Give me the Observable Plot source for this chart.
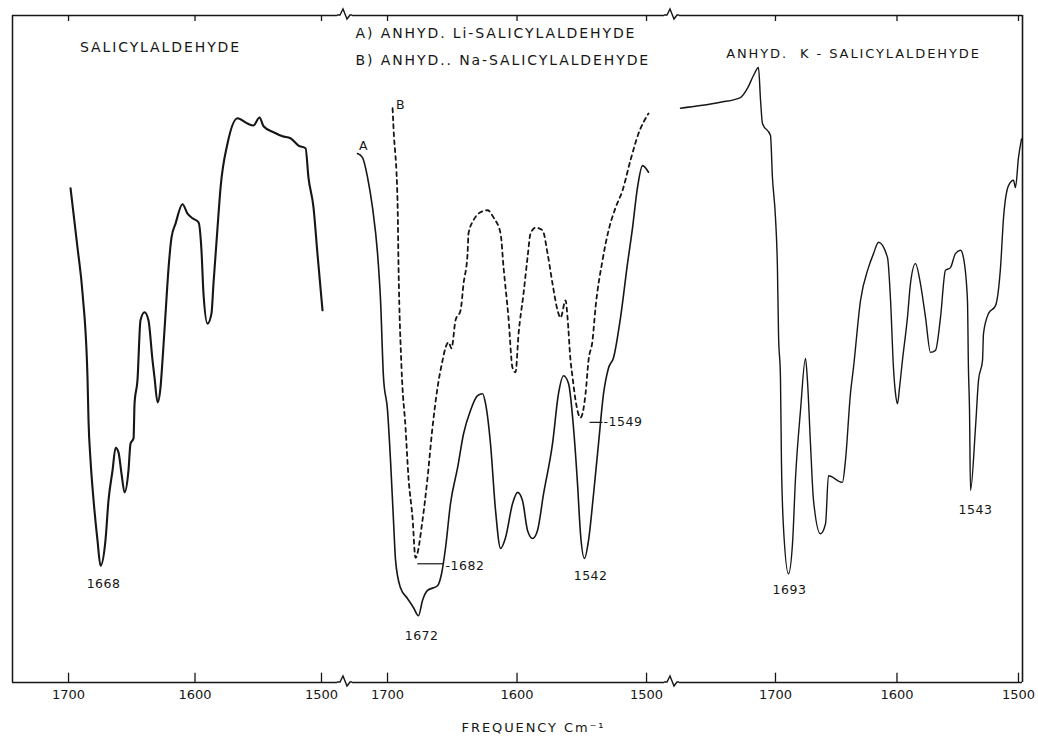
<!DOCTYPE html>
<html><head><meta charset="utf-8">
<script src="https://cdn.jsdelivr.net/npm/d3@7"></script>
<script src="https://cdn.jsdelivr.net/npm/@observablehq/plot@0.6"></script>
<style>
html,body{margin:0;padding:0;background:#fff;}
#chart{display:flex;flex-direction:row;align-items:flex-start;width:1038px;height:738px;}
#chart svg{overflow:visible;flex:none;}
</style></head><body><div id="chart"></div>
<script>
// ---- tick labels (cm^-1) ----
const tickValues = [1700, 1600, 1500];

// ---- Panel 1: Salicylaldehyde ----
const salWn = [1698.4,1692.9,1688.9,1685.0,1684.2,1682.6,1680.2,1677.1,1674.7,1670.8,1668.4,1665.2,1662.8,1660.5,1658.1,1655.7,1652.6,1651.0,1648.6,1647.8,1645.5,1643.1,1639.9,1636.8,1633.6,1632.0,1629.6,1627.3,1625.7,1623.3,1620.9,1618.6,1615.4,1609.9,1605.9,1602.0,1597.2,1594.9,1593.3,1590.1,1587.0,1585.4,1582.2,1579.8,1574.3,1566.4,1558.5,1553.8,1549.0,1545.8,1537.9,1530.8,1524.5,1518.2,1512.6,1510.3,1506.3,1503.2,1499.2];
const salT = [74.1,65.2,58.3,45.7,39.3,33.3,27.3,21.3,17.5,21.3,27.3,31.8,35.2,34.5,31.3,28.5,31.8,35.8,36.6,41.8,45.3,54.3,55.5,54.3,48.3,45.7,42.0,44.2,48.3,55.3,62.2,66.7,68.8,71.7,70.3,69.6,69.0,64.8,58.3,53.8,55.3,59.8,68.2,74.2,80.8,84.6,83.8,83.5,84.7,83.4,82.5,81.9,81.6,80.5,80.1,75.7,71.2,64.3,55.8];

// ---- Panel 2: A) anhyd. Li-salicylaldehyde (solid) ----
const liWn = [1723.2,1719.3,1715.4,1711.6,1707.7,1705.4,1703.1,1700.0,1697.7,1695.4,1693.8,1690.0,1684.6,1679.9,1676.1,1673.0,1669.1,1661.4,1658.3,1655.2,1651.4,1645.9,1641.3,1635.9,1630.5,1626.6,1624.3,1620.5,1616.6,1612.7,1608.9,1603.5,1599.6,1595.8,1591.9,1588.0,1584.2,1579.5,1572.6,1568.0,1564.1,1560.2,1556.4,1553.3,1551.0,1547.9,1544.8,1540.9,1537.1,1533.2,1529.3,1525.5,1520.1,1514.7,1510.8,1507.0,1503.1,1498.5];
const liT = [79.3,78.7,75.7,71.2,64.3,57.3,45.7,40.8,33.3,24.3,18.3,14.2,12.6,11.2,10.0,12.3,13.8,14.5,16.3,20.2,26.8,32.2,37.3,40.8,43.0,43.3,41.8,35.8,25.8,20.1,21.7,26.8,28.5,27.3,22.8,21.6,22.8,28.3,35.8,43.3,46.0,44.8,38.2,29.8,22.3,18.6,21.3,28.3,35.8,43.3,47.2,48.7,54.7,62.8,68.2,74.2,77.5,76.5];

// ---- Panel 2: B) anhyd. Na-salicylaldehyde (dashed) ----
const naWn = [1696.1,1695.4,1692.3,1691.5,1689.2,1686.1,1683.8,1680.7,1678.4,1673.0,1669.1,1665.3,1661.4,1657.5,1655.2,1652.9,1650.6,1647.5,1643.6,1641.3,1638.2,1637.5,1633.6,1628.2,1622.8,1618.1,1612.7,1610.4,1606.6,1603.5,1601.2,1598.8,1595.0,1591.9,1589.6,1585.7,1580.3,1576.4,1572.6,1568.7,1566.4,1562.5,1561.0,1558.7,1557.1,1554.8,1551.0,1547.1,1544.8,1541.7,1539.4,1534.0,1529.3,1523.9,1518.5,1512.4,1506.2,1498.5];
const naT = [86.1,83.2,72.3,62.2,47.2,38.2,30.7,24.7,18.7,24.3,30.7,38.2,44.2,48.3,50.2,51.0,50.1,54.3,55.8,59.8,64.3,67.3,69.3,70.5,70.8,69.7,67.3,62.2,54.7,47.2,46.5,52.3,58.3,63.7,67.3,68.2,67.8,64.3,59.8,55.8,54.7,57.3,54.7,48.3,45.7,42.3,39.7,43.3,48.3,51.3,56.2,63.3,67.8,71.2,73.8,78.3,82.3,85.3];

// ---- Panel 3: anhyd. K-salicylaldehyde ----
const kWn = [1778.2,1761.7,1745.3,1728.8,1723.0,1718.1,1714.0,1712.3,1710.7,1704.1,1702.5,1700.0,1698.4,1697.5,1695.9,1695.1,1693.4,1689.3,1686.0,1683.5,1679.4,1675.3,1673.7,1671.2,1668.7,1663.0,1658.8,1656.4,1644.9,1642.4,1638.3,1635.8,1630.0,1623.5,1619.3,1615.2,1607.8,1605.3,1602.9,1601.2,1599.6,1597.9,1595.5,1591.4,1588.9,1584.8,1580.7,1576.5,1572.4,1568.3,1564.2,1560.1,1556.0,1551.9,1547.7,1545.3,1542.0,1541.2,1540.3,1539.5,1535.4,1532.9,1529.6,1528.8,1524.7,1518.9,1514.8,1512.3,1508.2,1504.1,1502.5,1500.0,1497.5];
const kT = [86.1,86.5,87.0,87.7,89.1,91.0,92.2,87.3,83.8,82.0,75.7,69.7,62.2,52.3,45.7,33.3,23.2,16.3,20.8,30.7,40.8,48.6,45.3,35.8,27.3,22.3,23.8,31.0,30.0,33.3,43.3,47.2,57.3,62.2,64.3,66.0,63.7,57.3,47.2,43.3,41.8,44.2,48.3,54.7,59.8,62.8,59.8,54.7,49.5,49.8,54.7,61.8,62.2,64.3,64.8,63.7,57.3,47.2,40.8,28.8,38.2,45.3,48.3,52.3,55.3,56.5,62.2,69.7,74.5,75.3,74.2,78.7,81.5];

// ---- panel x-domains (cm^-1, left edge to right edge) ----
const dom1 = [1744.3, 1482.6];
const dom2 = [1734.0, 1481.5];
const dom3 = [1786.4, 1496.7];

// ---- annotations ----
const titles1 = [{w: 1627.3, t: 95.2, s: "SALICYLALDEHYDE"}];
const titles2 = [
  {w: 1724.7, t: 97.3, s: "A) ANHYD. Li-SALICYLALDEHYDE"},
  {w: 1724.7, t: 93.3, s: "B) ANHYD.. Na-SALICYLALDEHYDE"}
];
const titles3 = [{w: 1635.8, t: 94.3, s: "ANHYD.  K - SALICYLALDEHYDE"}];
const peaks1 = [{w: 1672.3, t: 14.8, s: "1668"}];
const peaks2 = [
  {w: 1718.5, t: 80.5, s: "A"},
  {w: 1690.0, t: 86.6, s: "B"},
  {w: 1673.7, t: 7.0, s: "1672"},
  {w: 1543.2, t: 16.0, s: "1542"}
];
const sidePeaks2 = [
  {w: 1655.2, t: 17.4, s: "-1682"},
  {w: 1533.2, t: 39.0, s: "-1549"}
];
const leaders2 = [
  {w1: 1677.0, w2: 1656.8, t: 17.8},
  {w1: 1544.0, w2: 1534.0, t: 39.0}
];
const peaks3 = [
  {w: 1688.5, t: 13.8, s: "1693"},
  {w: 1535.4, t: 25.8, s: "1543"}
];
const axisTitle = [{w: 1587.3, t: -6.8, s: "FREQUENCY Cm\u207B\u00B9"}];

const INK = "#161616";
const pts = (w, t) => w.map((v, i) => ({w: v, t: t[i]})).filter(d => d.t !== undefined);

// axis-break zigzag, drawn on top and bottom frame lines at a given wavenumber
const zig = (wn) => (index, scales) => {
  const g = d3.create("svg:g").attr("fill", "none").attr("stroke", INK).attr("stroke-width", 1.4);
  const cx = scales.x(wn);
  for (const t of [0, 100]) {
    const y0 = scales.y(t);
    g.append("path").attr("d", `M${cx-6},${y0}L${cx-3},${y0}L${cx},${y0-6}L${cx+4},${y0+4}L${cx+7},${y0}L${cx+9},${y0}`);
  }
  return g.node();
};

function panel({width, marginLeft, marginRight, domain, marks, inset}) {
  return Plot.plot({
    width, height: 738, marginTop: 15, marginBottom: 56, marginLeft, marginRight,
    style: {fontFamily: "DejaVu Sans", fontSize: "13px", color: INK, background: "transparent", overflow: "visible"},
    x: {domain},
    y: {domain: [0, 100], axis: null},
    marks: [
      Plot.ruleY([0, 100], {stroke: INK, strokeWidth: 1.5, insetLeft: inset[0], insetRight: inset[1]}),
      Plot.ruleX(tickValues, {y1: 0, y2: 1.4, stroke: INK, strokeWidth: 1.3}),
      Plot.ruleX(tickValues, {y1: 100, y2: 99.1, stroke: INK, strokeWidth: 1.3}),
      Plot.axisX(tickValues, {anchor: "bottom", tickSize: 0, tickPadding: 7, fontSize: 13, label: null, tickFormat: d => String(d)}),
      ...marks
    ]
  });
}

const textMark = (data, size, anchor = "middle") =>
  Plot.text(data, {x: "w", y: "t", text: "s", textAnchor: anchor, fontSize: size, fill: INK});

const p1 = panel({
  width: 343, marginLeft: 12, marginRight: 0, domain: dom1, inset: [0, 6],
  marks: [
    Plot.ruleX([dom1[0]], {stroke: INK, strokeWidth: 1.5}),
    Plot.line(pts(salWn, salT), {x: "w", y: "t", stroke: INK, strokeWidth: 2.1, curve: "monotone-x"}),
    textMark(titles1, 14),
    textMark(peaks1, 12.5)
  ]
});
const p2 = panel({
  width: 327, marginLeft: 0, marginRight: 0, domain: dom2, inset: [9, 6],
  marks: [
    Plot.line(pts(liWn, liT), {x: "w", y: "t", stroke: INK, strokeWidth: 1.6, curve: "monotone-x"}),
    Plot.line(pts(naWn, naT), {x: "w", y: "t", stroke: INK, strokeWidth: 1.8, strokeDasharray: "4,4", curve: "monotone-x"}),
    Plot.link(leaders2, {x1: "w1", x2: "w2", y1: "t", y2: "t", stroke: INK, strokeWidth: 1.2}),
    textMark(titles2, 14, "start"),
    textMark(peaks2, 12.5),
    textMark(sidePeaks2, 12.5, "start"),
    textMark(axisTitle, 13),
    zig(dom2[0]),
    zig(dom2[1])
  ]
});
const p3 = panel({
  width: 368, marginLeft: 0, marginRight: 16, domain: dom3, inset: [9, 0],
  marks: [
    Plot.ruleX([dom3[1]], {stroke: INK, strokeWidth: 1.6}),
    Plot.line(pts(kWn, kT), {x: "w", y: "t", stroke: INK, strokeWidth: 1.4, curve: "monotone-x"}),
    textMark(titles3, 13),
    textMark(peaks3, 12.5)
  ]
});

const chart = document.getElementById("chart");
for (const p of [p1, p2, p3]) {
  d3.select(p).selectAll('g[aria-label="text"]').each(function() {
    const fs = +this.getAttribute("font-size");
    d3.select(this).style("letter-spacing", fs >= 14 ? "1.9px" : fs >= 13 ? "1.9px" : "0.5px");
  });
  chart.appendChild(p);
}
</script></body></html>
